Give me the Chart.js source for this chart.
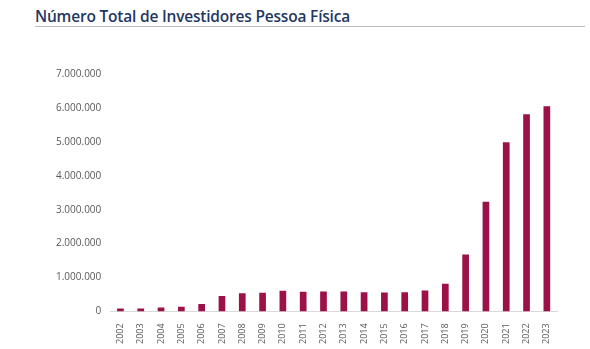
<!DOCTYPE html>
<html>
<head>
<meta charset="utf-8">
<script src="https://cdn.jsdelivr.net/npm/chart.js@4"></script>
<style>
  html, body { margin: 0; padding: 0; background: #fff; }
  body { width: 590px; height: 349px; position: relative; overflow: hidden; }
  #titulo {
    position: absolute; left: 35px; top: 5px;
    font-family: "Open Sans", sans-serif; font-weight: 600; font-size: 15.5px;
    color: #1f3864; letter-spacing: -0.2px;
  }
  #linha { position: absolute; left: 35px; top: 26px; width: 550px; height: 1px; background: #b8bcc2; }
  #wrap { position: absolute; left: 0; top: 54px; width: 590px; height: 295px; }
</style>
</head>
<body>
<div id="titulo">Número Total de Investidores Pessoa Física</div>
<div id="linha"></div>
<div id="wrap"><canvas id="grafico"></canvas></div>
<script>
const anos = ["2002","2003","2004","2005","2006","2007","2008","2009","2010","2011","2012",
  "2013","2014","2015","2016","2017","2018","2019","2020","2021","2022","2023"];
const investidores = [85000, 85000, 116000, 135000, 219000, 456000, 536000, 552000, 610000,
  583000, 587000, 589000, 565000, 557000, 564000, 619000, 813000, 1680000, 3230000,
  4990000, 5810000, 6050000];
const ticksY = [0, 1000000, 2000000, 3000000, 4000000, 5000000, 6000000, 7000000];

const fmt = (v) => v.toLocaleString("de-DE");

document.addEventListener("DOMContentLoaded", () => {
  new Chart(document.getElementById("grafico"), {
    type: "bar",
    data: {
      labels: anos,
      datasets: [{
        data: investidores,
        backgroundColor: "#9c1248",
        barPercentage: 0.33,
        categoryPercentage: 1,
      }],
    },
    options: {
      responsive: true,
      maintainAspectRatio: false,
      animation: false,
      layout: { padding: { left: 55, right: 33, top: 20, bottom: 1 } },
      plugins: { legend: { display: false }, tooltip: { enabled: false } },
      scales: {
        x: {
          grid: { display: false },
          border: { color: "#d9d9d9" },
          ticks: {
            minRotation: 90, maxRotation: 90, color: "#595959",
            font: { family: "Open Sans", size: 9 }, padding: 4,
          },
        },
        y: {
          min: 0, max: 7000000,
          afterBuildTicks: (axis) => { axis.ticks = ticksY.map((v) => ({ value: v })); },
          grid: { display: false },
          border: { display: false },
          ticks: {
            color: "#595959", font: { family: "Open Sans", size: 10 }, padding: 1,
            callback: (v) => fmt(v),
          },
        },
      },
    },
  });
});
</script>
</body>
</html>
